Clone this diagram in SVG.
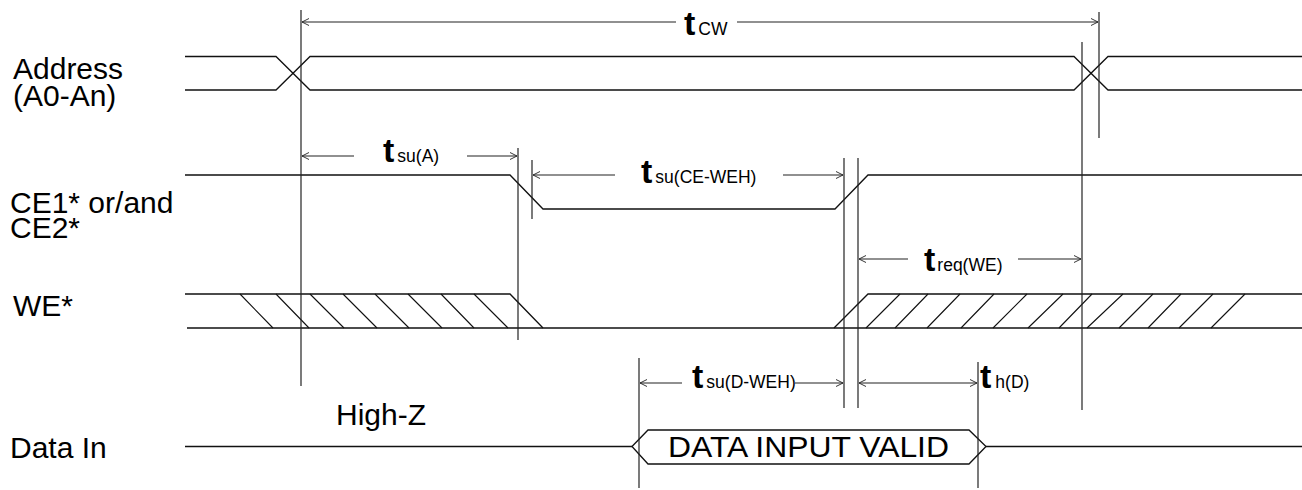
<svg xmlns="http://www.w3.org/2000/svg" width="1302" height="490" viewBox="0 0 1302 490">
<style>
.w{fill:none;stroke:#111;stroke-width:1.3}
.v{fill:none;stroke:#222;stroke-width:1.2}
.a{fill:none;stroke:#222;stroke-width:1.2}
.h{fill:none;stroke:#111;stroke-width:1.1}
.lbl{font-family:"Liberation Sans",Arial,sans-serif;font-size:30px;fill:#000}
.tt{font-family:"Liberation Sans",Arial,sans-serif;font-size:34px;font-weight:bold;fill:#000}
.ts{font-family:"Liberation Sans",Arial,sans-serif;font-size:17.5px;font-weight:normal;fill:#000}
</style>
<defs>
<marker id="ah" viewBox="0 0 10 10" refX="10" refY="5" markerWidth="7" markerHeight="10" markerUnits="userSpaceOnUse" orient="auto-start-reverse">
<polyline points="0,0 10,5 0,10" fill="none" stroke="#222" stroke-width="1.3"/>
</marker>
</defs>
<rect width="1302" height="490" fill="#fff"/>

<g id="labels">
<text class="lbl"><tspan x="13" y="79">Address</tspan><tspan x="13" y="106">(A0-An)</tspan></text>
<text class="lbl"><tspan x="10" y="213">CE1* or/and</tspan><tspan x="10" y="238">CE2*</tspan></text>
<text class="lbl" x="13" y="316">WE*</text>
<text class="lbl" x="10" y="458">Data In</text>
</g>

<g id="address">
<polyline class="w" points="185,56.5 276,56.5 310,90 1074,90 1108,56.5 1302,56.5"/>
<polyline class="w" points="185,90 276,90 310,56.5 1074,56.5 1108,90 1302,90"/>
</g>

<g id="ce">
<polyline class="w" points="185,175 510,175 543,209 835,209 868,175 1302,175"/>
</g>

<g id="we">
<polyline class="w" points="185,294 510,294 543,328"/>
<line class="w" x1="187" y1="328" x2="1302" y2="328"/>
<polyline class="w" points="834,328 868,294 1302,294"/>
<path class="h" d="M240,294 L273,328 M276,294 L309,328 M310,294 L344,328 M343,294 L377,328 M375,294 L409,328 M408,294 L442,328 M441,294 L474,328 M474,294 L508,328"/>
<path class="h" d="M866,328 L900,294 M895,328 L928,294 M927,328 L960,294 M961,328 L994,294 M993,328 L1027,294 M1028,328 L1063,294 M1059,328 L1092,294 M1087,328 L1123,294 M1119,328 L1153,294 M1148,328 L1181,294 M1179,328 L1213,294 M1211,328 L1245,294"/>
</g>

<g id="datain">
<line class="w" x1="185" y1="446.5" x2="632" y2="446.5"/>
<polygon class="w" points="632,446.5 648,430 969,430 986,446.5 969,464 648,464"/>
<line class="w" x1="986" y1="446.5" x2="1302" y2="446.5"/>
<text class="lbl" x="668" y="457" textLength="281" lengthAdjust="spacingAndGlyphs">DATA INPUT VALID</text>
<text class="lbl" x="336" y="425">High-Z</text>
</g>

<g id="guides">
<line class="v" x1="301" y1="10" x2="301" y2="386"/>
<line class="v" x1="1099" y1="12" x2="1099" y2="138"/>
<line class="v" x1="1082" y1="42" x2="1082" y2="410"/>
<line class="v" x1="518" y1="148" x2="518" y2="340"/>
<line class="v" x1="532" y1="160" x2="532" y2="219"/>
<line class="v" x1="844" y1="158" x2="844" y2="408"/>
<line class="v" x1="858" y1="158" x2="858" y2="408"/>
<line class="v" x1="639" y1="358" x2="639" y2="488"/>
<line class="v" x1="978" y1="362" x2="978" y2="488"/>
</g>

<g id="connectors">
<line class="a" x1="676" y1="22" x2="302" y2="22" marker-end="url(#ah)"/>
<line class="a" x1="737" y1="22" x2="1098" y2="22" marker-end="url(#ah)"/>
<line class="a" x1="354" y1="156" x2="302" y2="156" marker-end="url(#ah)"/>
<line class="a" x1="467" y1="156" x2="517" y2="156" marker-end="url(#ah)"/>
<line class="a" x1="615" y1="175" x2="533" y2="175" marker-end="url(#ah)"/>
<line class="a" x1="783" y1="175" x2="843" y2="175" marker-end="url(#ah)"/>
<line class="a" x1="908" y1="259" x2="859" y2="259" marker-end="url(#ah)"/>
<line class="a" x1="1018" y1="259" x2="1081" y2="259" marker-end="url(#ah)"/>
<line class="a" x1="682" y1="383" x2="640" y2="383" marker-end="url(#ah)"/>
<line class="a" x1="795" y1="383" x2="843" y2="383" marker-end="url(#ah)"/>
<line class="a" x1="859" y1="383" x2="977" y2="383" marker-start="url(#ah)" marker-end="url(#ah)"/>
</g>

<g id="timing-labels">
<text x="684" y="35"><tspan class="tt">t</tspan><tspan class="ts" dx="3">CW</tspan></text>
<text x="383" y="162"><tspan class="tt">t</tspan><tspan class="ts" dx="3">su(A)</tspan></text>
<text x="641" y="183"><tspan class="tt">t</tspan><tspan class="ts" dx="3">su(CE-WEH)</tspan></text>
<text x="924" y="271"><tspan class="tt">t</tspan><tspan class="ts" dx="2">req(WE)</tspan></text>
<text x="692" y="388"><tspan class="tt">t</tspan><tspan class="ts" dx="3">su(D-WEH)</tspan></text>
<text x="980" y="388"><tspan class="tt">t</tspan><tspan class="ts" dx="4">h(D)</tspan></text>
</g>
</svg>
